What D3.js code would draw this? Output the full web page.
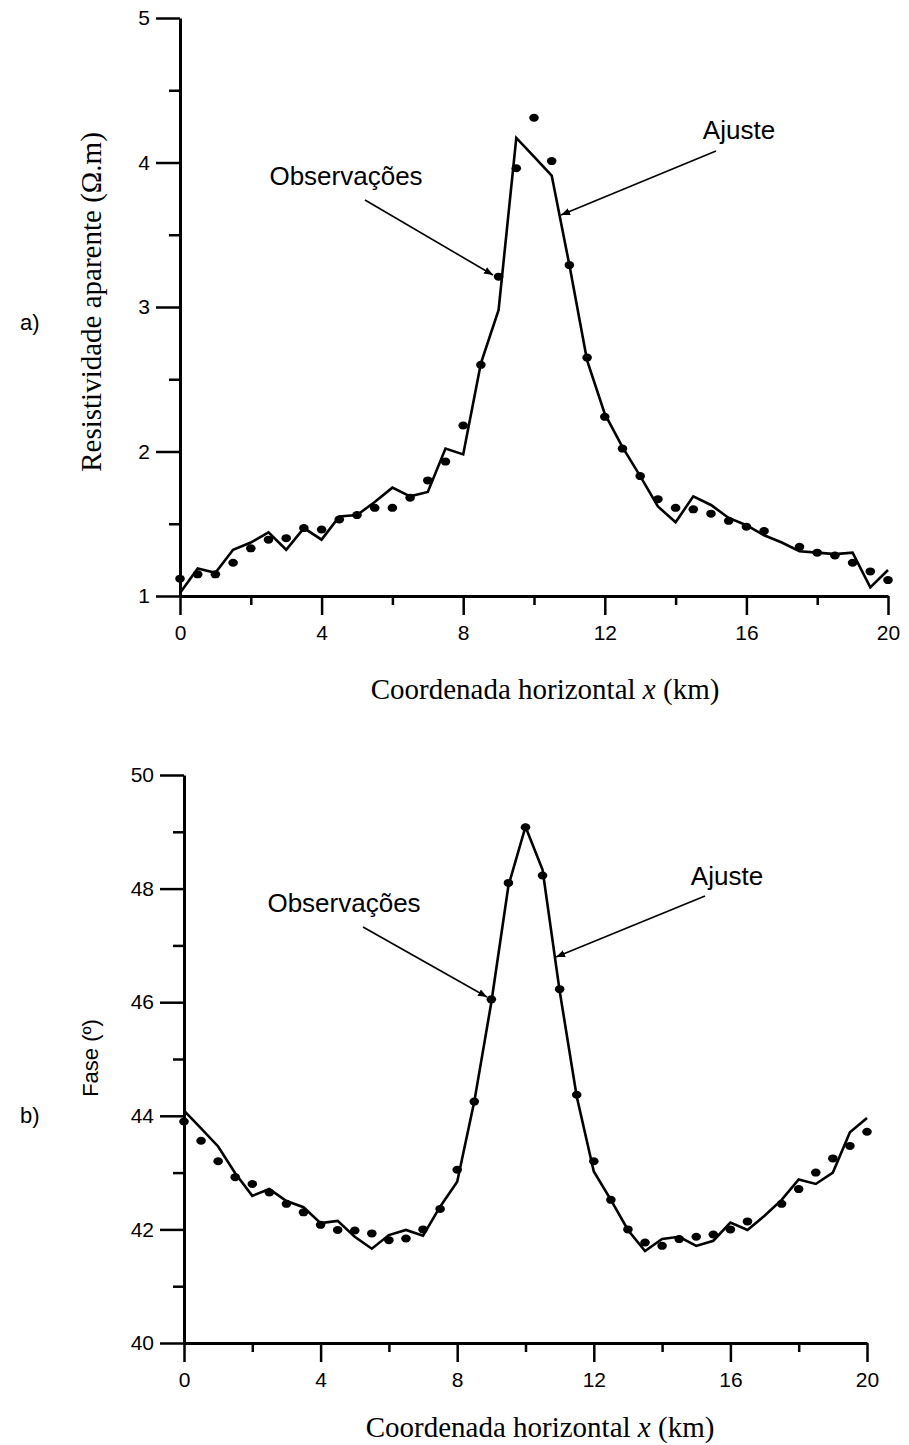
<!DOCTYPE html>
<html>
<head>
<meta charset="utf-8">
<script src="https://cdn.jsdelivr.net/npm/d3@7"></script>
<style>
  html, body { margin: 0; padding: 0; background: #fff; }
  svg { display: block; }
  .tick text { font-family: "Liberation Sans", Arial, sans-serif; fill: #000; }
</style>
</head>
<body>
<svg id="fig" width="909" height="1445"></svg>
<script>
// Profile positions (km)
const fitX = [0,0.5,1,1.5,2,2.5,3,3.5,4,4.5,5,5.5,6,6.5,7,7.5,8,8.5,9,9.5,10,10.5,11,11.5,12,12.5,13,13.5,14,14.5,15,15.5,16,16.5,17,17.5,18,18.5,19,19.5,20];
const obsX = [0,0.5,1,1.5,2,2.5,3,3.5,4,4.5,5,5.5,6,6.5,7,7.5,8,8.5,9,9.5,10,10.5,11,11.5,12,12.5,13,13.5,14,14.5,15,15.5,16,16.5,17.5,18,18.5,19,19.5,20];

// a) apparent resistivity (ohm.m)
const rhoObs = [1.12,1.15,1.15,1.23,1.33,1.39,1.40,1.47,1.46,1.53,1.56,1.61,1.61,1.68,1.80,1.93,2.18,2.60,3.21,3.96,4.31,4.01,3.29,2.65,2.24,2.02,1.83,1.67,1.61,1.60,1.57,1.52,1.48,1.45,1.34,1.30,1.28,1.23,1.17,1.11];
const rhoFit = [1.02,1.19,1.16,1.32,1.37,1.44,1.32,1.47,1.39,1.55,1.56,1.65,1.75,1.69,1.72,2.02,1.98,2.61,2.98,4.17,4.04,3.91,3.29,2.63,2.26,2.03,1.83,1.62,1.51,1.69,1.63,1.54,1.49,1.42,1.37,1.31,1.30,1.29,1.30,1.06,1.18];

// b) phase (degrees)
const phaseObs = [43.90,43.56,43.20,42.92,42.80,42.65,42.45,42.30,42.08,41.99,41.98,41.93,41.81,41.84,42.00,42.36,43.05,44.25,46.05,48.10,49.08,48.23,46.23,44.37,43.20,42.52,42.00,41.77,41.71,41.83,41.87,41.91,42.00,42.14,42.45,42.71,43.00,43.25,43.47,43.72];
const phaseFit = [44.09,43.78,43.46,42.99,42.59,42.71,42.50,42.39,42.11,42.15,41.87,41.66,41.90,41.99,41.89,42.40,42.84,44.25,46.00,48.05,49.09,48.33,46.20,44.34,43.02,42.52,41.99,41.62,41.83,41.87,41.71,41.80,42.12,41.99,42.24,42.52,42.88,42.80,43.00,43.71,43.96];

// Axis ticks
const xMajor = [0,4,8,12,16,20];
const xMinor = [2,6,10,14,18];
const rhoMajor = [1,2,3,4,5];
const rhoMinor = [1.5,2.5,3.5,4.5];
const phaseMajor = [40,42,44,46,48,50];
const phaseMinor = [41,43,45,47,49];

const svg = d3.select("#fig");

// arrowhead for annotation leaders
svg.append("defs").append("marker")
  .attr("id", "arrow")
  .attr("viewBox", "0 0 10 10")
  .attr("refX", 10).attr("refY", 5)
  .attr("markerWidth", 9).attr("markerHeight", 9)
  .attr("markerUnits", "userSpaceOnUse")
  .attr("orient", "auto")
  .append("path").attr("d", "M0,1 L10,5 L0,9 Z").attr("fill", "#000");

const intFmt = d3.format("d");

function panel(cfg) {
  const g = svg.append("g");
  const x = cfg.x, y = cfg.y;
  const [x0, x1] = x.range();
  const [yb, yt] = y.range();

  // minor ticks
  g.append("g").attr("transform", `translate(0,${yb})`)
    .call(d3.axisBottom(x).tickValues(xMinor).tickSize(9).tickSizeOuter(0).tickFormat(""))
    .call(a => a.select(".domain").remove());
  g.append("g").attr("transform", `translate(${x0},0)`)
    .call(d3.axisLeft(y).tickValues(cfg.yMinor).tickSize(11).tickSizeOuter(0).tickFormat(""))
    .call(a => a.select(".domain").remove());

  // major ticks with labels
  const xa = g.append("g").attr("transform", `translate(0,${yb})`)
    .call(d3.axisBottom(x).tickValues(xMajor).tickSize(19).tickSizeOuter(0).tickPadding(10).tickFormat(intFmt));
  xa.selectAll("text").attr("font-size", 21);
  const ya = g.append("g").attr("transform", `translate(${x0},0)`)
    .call(d3.axisLeft(y).tickValues(cfg.yMajor).tickSize(24).tickSizeOuter(0).tickPadding(6).tickFormat(intFmt));
  ya.selectAll("text").attr("font-size", 21);

  g.selectAll(".tick line").attr("stroke", "#000").attr("stroke-width", 2.5);
  g.selectAll(".domain").attr("stroke", "#000").attr("stroke-width", 3);

  // fitted curve
  const line = d3.line().x((d, i) => x(fitX[i])).y(d => y(d));
  g.append("path").datum(cfg.fit)
    .attr("d", line).attr("fill", "none")
    .attr("stroke", "#000").attr("stroke-width", 2.6).attr("stroke-linejoin", "miter");

  // observed values
  g.selectAll("ellipse.obs").data(cfg.obs).join("ellipse")
    .attr("class", "obs")
    .attr("cx", (d, i) => x(obsX[i])).attr("cy", d => y(d))
    .attr("rx", 4.8).attr("ry", 4).attr("fill", "#000");

  // annotations
  cfg.notes.forEach(n => {
    g.append("text").attr("x", n.tx).attr("y", n.ty)
      .attr("text-anchor", "middle")
      .attr("font-family", "Liberation Sans, Arial, sans-serif")
      .attr("font-size", 26).text(n.label);
    g.append("line")
      .attr("x1", n.from[0]).attr("y1", n.from[1])
      .attr("x2", n.to[0]).attr("y2", n.to[1])
      .attr("stroke", "#000").attr("stroke-width", 1.6)
      .attr("marker-end", "url(#arrow)");
  });

  // x-axis title
  const xt = g.append("text")
    .attr("x", cfg.xTitleX).attr("y", cfg.xTitleY)
    .attr("text-anchor", "middle")
    .attr("font-family", "Liberation Serif, Times New Roman, serif")
    .attr("font-size", 29);
  xt.append("tspan").text("Coordenada horizontal ");
  xt.append("tspan").attr("font-style", "italic").text("x");
  xt.append("tspan").text(" (km)");

  // y-axis title
  g.append("text")
    .attr("transform", `translate(${cfg.yTitleX},${cfg.yTitleY}) rotate(-90)`)
    .attr("text-anchor", "middle")
    .attr("font-family", cfg.yTitleFont)
    .attr("font-size", cfg.yTitleSize)
    .text(cfg.yTitle);

  // panel letter
  g.append("text").attr("x", 20).attr("y", cfg.letterY)
    .attr("font-family", "Liberation Sans, Arial, sans-serif")
    .attr("font-size", 22).text(cfg.letter);
}

panel({
  x: d3.scaleLinear([0, 20], [180, 888]),
  y: d3.scaleLinear([1, 5], [596, 18]),
  yMajor: rhoMajor, yMinor: rhoMinor,
  fit: rhoFit, obs: rhoObs,
  xTitleX: 545, xTitleY: 699,
  yTitle: "Resistividade aparente (Ω.m)",
  yTitleX: 101, yTitleY: 302, yTitleFont: "Liberation Serif, Times New Roman, serif", yTitleSize: 29,
  letter: "a)", letterY: 330,
  notes: [
    { label: "Observações", tx: 346, ty: 185, from: [365, 200], to: [493, 275] },
    { label: "Ajuste", tx: 739, ty: 139, from: [716, 151], to: [561, 215] }
  ]
});

panel({
  x: d3.scaleLinear([0, 20], [184, 867]),
  y: d3.scaleLinear([40, 50], [1343, 775]),
  yMajor: phaseMajor, yMinor: phaseMinor,
  fit: phaseFit, obs: phaseObs,
  xTitleX: 540, xTitleY: 1437,
  yTitle: "Fase (º)",
  yTitleX: 98, yTitleY: 1058, yTitleFont: "Liberation Sans, Arial, sans-serif", yTitleSize: 22,
  letter: "b)", letterY: 1123,
  notes: [
    { label: "Observações", tx: 344, ty: 912, from: [363, 927], to: [487, 997] },
    { label: "Ajuste", tx: 727, ty: 885, from: [705, 896], to: [556, 957] }
  ]
});
</script>
</body>
</html>
